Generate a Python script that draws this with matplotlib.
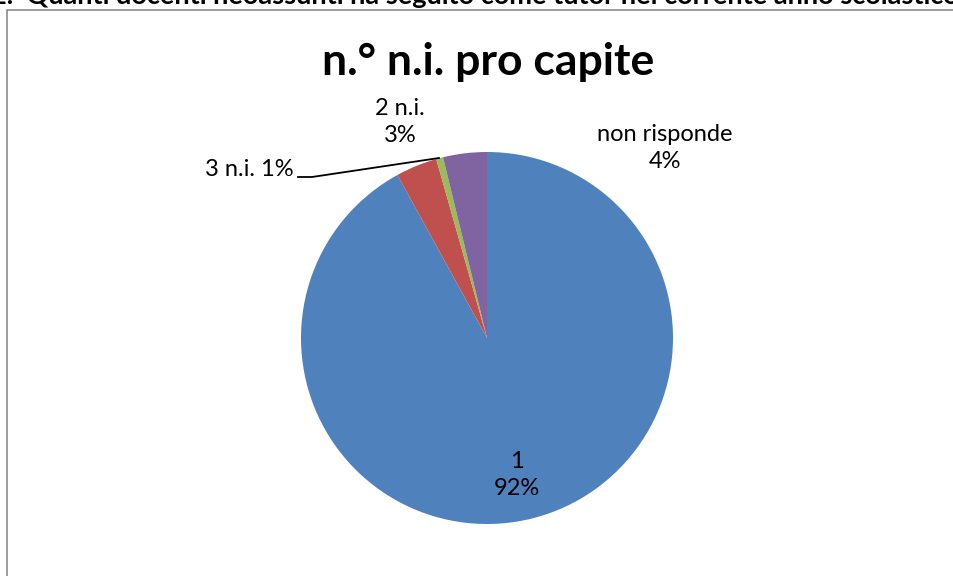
import matplotlib.pyplot as plt
from matplotlib.patches import Rectangle

# data
categories = ['1', '2 n.i.', '3 n.i.', 'non risponde']
values = [92.0, 3.6, 0.6, 3.8]
pct_labels = ['92%', '3%', '1%', '4%']
colors = ['#4F81BD', '#C0504D', '#9BBB59', '#8064A2']

title = 'n.° n.i. pro capite'
question = '2.  Quanti docenti neoassunti ha seguito come tutor nel corrente anno scolastico?'

W, H = 954, 576
plt.rcParams['font.family'] = ['Lato', 'DejaVu Sans']

fig = plt.figure(figsize=(W / 100, H / 100), dpi=100)
ax = fig.add_axes([0, 0, 1, 1])


def py(y):
    # pixel row (from top) -> data y
    return H - y


# chart frame, running off the right and bottom edges
ax.add_patch(Rectangle((7, py(H + 20)), W + 20, H + 10, fill=False,
                       edgecolor='#8c8c8c', lw=1.2, zorder=0))

# question text, cut off at the top of the image (as in the original)
ax.text(-9, py(4), question, fontsize=19.5, fontweight='bold',
        ha='left', va='baseline', color='black')

ax.pie(values, colors=colors, startangle=90, counterclock=False,
       center=(487, py(338)), radius=186,
       wedgeprops=dict(linewidth=0, antialiased=True))

ax.set_xlim(0, W)
ax.set_ylim(0, H)
ax.set_aspect('equal')
ax.axis('off')

ax.text(488, py(62), title, fontsize=32, fontweight='bold',
        ha='center', va='center')

lab_kw = dict(fontsize=17, ha='center', va='center', linespacing=1.4)
ax.text(517, py(475), categories[0] + '\n' + pct_labels[0], **lab_kw)
ax.text(400, py(122), categories[1] + '\n' + pct_labels[1], **lab_kw)
ax.text(665, py(148), categories[3] + '\n' + pct_labels[3], **lab_kw)
ax.text(294, py(169), categories[2] + ' ' + pct_labels[2],
        fontsize=17, ha='right', va='center')

# leader line for the tiny slice
ax.plot([298, 312, 439], [py(177), py(177), py(158)], color='black', lw=1.3)

fig.savefig('out.png', dpi=100)
